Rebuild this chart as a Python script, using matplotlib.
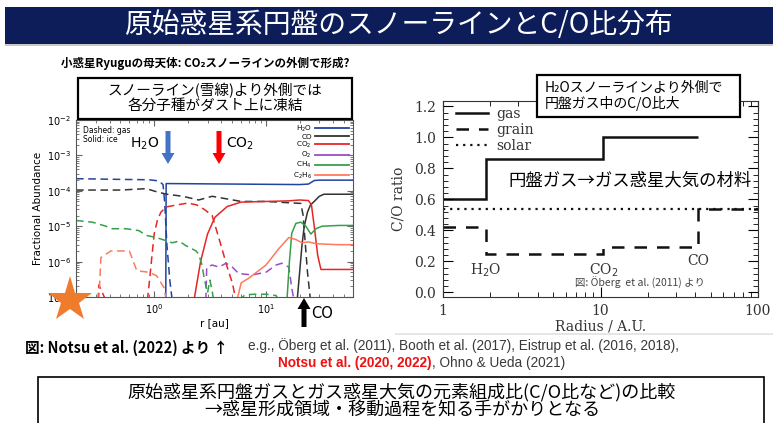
import numpy as np
import matplotlib
matplotlib.use('Agg')
import matplotlib.pyplot as plt
from matplotlib.patches import Rectangle, FancyArrow
from matplotlib.lines import Line2D
from matplotlib.transforms import Affine2D
from matplotlib.ticker import LogLocator, NullFormatter, MultipleLocator, FixedLocator, FixedFormatter

plt.rcParams['font.family'] = ['Noto Sans CJK JP', 'DejaVu Sans']

W, H = 773, 423

# ---- left panel data (Notsu et al. 2022), r [au] vs fractional abundance ----
h2o_gas_r = [0.2, 0.5, 0.9, 1.1, 1.2, 1.24, 1.3, 1.38, 1.45]
h2o_gas_y = [2.2e-4, 2.1e-4, 2.05e-4, 1.9e-4, 1.5e-4, 5e-5, 3e-6, 3e-7, 8e-8]
h2o_ice_r = [1.27, 1.28, 1.35, 5, 20, 24, 27, 30, 60]
h2o_ice_y = [8e-8, 1.6e-4, 1.6e-4, 1.55e-4, 1.5e-4, 1.55e-4, 1.95e-4, 2e-4, 2e-4]

co_gas_r = [0.2, 0.5, 0.85, 1.1, 1.3, 1.8, 2.5, 3.3, 6, 10, 20.5, 21.5, 22.5, 23.5, 25]
co_gas_y = [1.05e-4, 1.05e-4, 1.15e-4, 9e-5, 8e-5, 7e-5, 5.5e-5, 7e-5, 5e-5, 5e-5, 4.4e-5, 2e-5, 3e-6, 5e-7, 8e-8]
co_ice_r = [19, 20, 21, 22, 23.5, 25, 27, 30, 33, 60]
co_ice_y = [8e-8, 5e-7, 3e-6, 1e-5, 2.5e-5, 4e-5, 5e-5, 7e-5, 8e-5, 8e-5]

co2_gas_r = [0.315, 0.32, 0.37, np.nan, 0.87, 0.91, 0.95, 1.0, 1.07, 1.15, 1.28, 1.6, 2.0, 2.4, 2.8,
             3.3, 3.9, 4.5, 5.0, 5.4]
co2_gas_y = [8e-8, 2.2e-7, 8e-8, np.nan, 8e-8, 3e-7, 1.2e-6, 6e-6, 1.5e-5, 2.5e-5, 3.5e-5, 4e-5, 4.5e-5,
             4e-5, 3e-5, 2e-5, 3.4e-6, 7e-7, 2.5e-7, 8e-8]
co2_ice_r = [2.27, 2.6, 3.0, 3.5, 4.5, 6, 10, 16, 20, 24, 25.5, 27, 29, 31, 60]
co2_ice_y = [8e-8, 1e-6, 6e-6, 1.8e-5, 3.6e-5, 4.8e-5, 5e-5, 5.2e-5, 5.5e-5, 5.3e-5, 4e-5, 1e-5, 1.5e-6,
             6e-7, 6e-7]

o2_gas_r = [2.9, 2.95, 3.3, 3.8, 4.4, 5.0, 5.7, 7.5, 10, 12.3, 13.9, 16, 17, 17.8]
o2_gas_y = [8e-8, 6.8e-7, 8e-7, 7e-7, 9e-7, 7e-7, 4.6e-7, 4.2e-7, 5e-7, 8e-7, 9e-7, 7e-7, 1.8e-7, 8e-8]

ch4_gas_r = [0.2, 0.28, 0.37, 0.42, 0.56, 0.73, 0.85, 1.04, 1.28, 1.45, 1.67, 1.93, 2.37, 2.5, 2.68,
             2.8, 3.0, 3.15, 3.3, 3.4, np.nan, 5.7, 6.5, 8, 10, 12.3, 13]
ch4_gas_y = [1.45e-5, 1.3e-5, 1e-5, 8.5e-6, 8.5e-6, 7.5e-6, 5.5e-6, 4.8e-6, 3.9e-6, 3.4e-6, 3.8e-6,
             2.8e-6, 2e-6, 1.6e-6, 8e-7, 3.4e-7, 1.3e-7, 3e-7, 1.5e-7, 8e-8, np.nan,
             8e-8, 1.15e-7, 1.2e-7, 1.2e-7, 1.1e-7, 8e-8]
ch4_ice_r = [15.4, 16.2, 17, 18.5, 20.5, 22.7, 25.2, 28, 31.7, 45, 60]
ch4_ice_y = [8e-8, 1e-6, 6.3e-6, 1.2e-5, 1.3e-5, 1e-5, 6e-6, 8.5e-6, 1e-5, 1.05e-5, 1.05e-5]

c2h6_gas_r = [0.32, 0.334, 0.41, 0.6, 0.70, 0.9, 1.05, 1.23, 1.28]
c2h6_gas_y = [8e-8, 1.3e-6, 2e-6, 2e-6, 5.5e-7, 5e-7, 4e-7, 1.8e-7, 8e-8]
c2h6_ice_r = [5.5, 6, 7.1, 10, 13, 16, 18.5, 21, 24, 28, 45, 60]
c2h6_ice_y = [8e-8, 2.5e-7, 3.5e-7, 8e-7, 2.3e-6, 4.8e-6, 4.2e-6, 3.4e-6, 3.6e-6, 3.2e-6, 3e-6, 3e-6]

species = ['H$_2$O', 'CO', 'CO$_2$', 'O$_2$', 'CH$_4$', 'C$_2$H$_6$']
colors = ['#2244a0', '#333333', '#e82525', '#9a4cc8', '#35a048', '#ff7a5c']
gas = [(h2o_gas_r, h2o_gas_y), (co_gas_r, co_gas_y), (co2_gas_r, co2_gas_y),
       (o2_gas_r, o2_gas_y), (ch4_gas_r, ch4_gas_y), (c2h6_gas_r, c2h6_gas_y)]
ice = [(h2o_ice_r, h2o_ice_y), (co_ice_r, co_ice_y), (co2_ice_r, co2_ice_y),
       None, (ch4_ice_r, ch4_ice_y), (c2h6_ice_r, c2h6_ice_y)]

# ---- right panel data (Oberg et al. 2011) ----
snow_edges = [1, 1.87, 10.4, 41.5]
gas_co = [0.6, 0.86, 1.0]
grain_edges = [1, 1.87, 10.4, 41.5, 100]
grain_co = [0.423, 0.245, 0.295, 0.54]
solar_co = 0.537

fig = plt.figure(figsize=(W / 100, H / 100), dpi=100)
PX = Affine2D().scale(0.01, -0.01).translate(0, H / 100) + fig.dpi_scale_trans


def fx(x):
    return x / W


def fy(y):
    return 1 - y / H


def box(x0, y0, x1, y1, lw=1.5, fc='white', ec='black', z=1):
    fig.patches.append(Rectangle((fx(x0), fy(y1)), fx(x1 - x0), (y1 - y0) / H, transform=fig.transFigure,
                                 fc=fc, ec=ec, lw=lw, zorder=z))


# title bar
box(5, 7, W, 44, lw=0, fc='#0c1d5a', ec='none')
box(5, 44, W, 46, lw=0, fc='#c8c8c8', ec='none')
fig.text(fx(398), fy(25), '原始惑星系円盤のスノーラインとC/O比分布', color='white', fontsize=20,
         ha='center', va='center')

# ---- left panel ----
axL = fig.add_axes([fx(76), fy(297), fx(353 - 76), (297 - 120) / H])
for c, g, i, lab in zip(colors, gas, ice, species):
    axL.plot(g[0], g[1], color=c, lw=1.1, dashes=(5, 3))
    if i is not None:
        axL.plot(i[0], i[1], color=c, lw=1.1)
axL.set_xscale('log')
axL.set_yscale('log')
axL.set_xlim(0.2, 60)
axL.set_ylim(1e-7, 1e-2)
axL.xaxis.set_major_locator(FixedLocator([1, 10]))
axL.xaxis.set_major_formatter(FixedFormatter(['10$^0$', '10$^1$']))
axL.xaxis.set_minor_locator(LogLocator(subs=np.arange(2, 10)))
axL.xaxis.set_minor_formatter(NullFormatter())
axL.yaxis.set_minor_locator(LogLocator(subs=np.arange(2, 10), numticks=20))
axL.yaxis.set_minor_formatter(NullFormatter())
axL.tick_params(which='both', direction='in', top=True, right=True, labelsize=7, color='#666666',
                labelfontfamily='DejaVu Sans')
axL.tick_params(which='major', length=4)
axL.tick_params(which='minor', length=2)
for s in axL.spines.values():
    s.set_color('#555555')
    s.set_linewidth(0.8)
axL.set_xlabel('r [au]', fontsize=7.5, family='DejaVu Sans', labelpad=2)
axL.set_ylabel('Fractional Abundance', fontsize=7.5, family='DejaVu Sans', labelpad=3)
leg_handles = [Line2D([], [], color=c, lw=1.3) for c in colors]
axL.legend(leg_handles, species, loc='upper right', markerfirst=False, frameon=False,
           labelspacing=0.0, handlelength=4.8, handletextpad=0.4, borderaxespad=0.1,
           prop={'family': 'DejaVu Sans', 'size': 5.2})
axL.text(0.025, 0.965, 'Dashed: gas\nSolid: ice', transform=axL.transAxes, fontsize=5.5, va='top',
         family='DejaVu Sans', linespacing=0.95)

# arrows and labels around the left panel
fig.patches.append(FancyArrow(168, 131, 0, 33, width=5, head_width=13, head_length=11,
                              length_includes_head=True, color='#4472c4', transform=PX, lw=0))
fig.patches.append(FancyArrow(219, 131, 0, 33, width=5, head_width=13, head_length=11,
                              length_includes_head=True, color='#ff0000', transform=PX, lw=0))
fig.patches.append(FancyArrow(304, 327, 0, -29, width=5, head_width=13, head_length=11,
                              length_includes_head=True, color='black', transform=PX, lw=0))
fig.text(fx(159), fy(144), 'H$_2$O', fontsize=10, ha='right', va='center', family='DejaVu Sans')
fig.text(fx(226), fy(144), 'CO$_2$', fontsize=10, ha='left', va='center', family='DejaVu Sans')
fig.text(fx(311), fy(313), 'CO', fontsize=10.5, ha='left', va='center', family='DejaVu Sans')
fig.add_artist(Line2D([fx(70)], [fy(300)], marker='*', markersize=34, color='#ef7c2d',
                      transform=fig.transFigure, markeredgewidth=0))

fig.text(fx(205), fy(63), '小惑星Ryuguの母天体: CO₂スノーラインの外側で形成?', fontsize=8.3,
         weight='bold', ha='center', va='center')
box(78, 78, 352, 119, lw=1.6, z=3)
fig.text(fx(215), fy(98.5), 'スノーライン(雪線)より外側では\n各分子種がダスト上に凍結', fontsize=10.5,
         ha='center', va='center', linespacing=1.15, zorder=4)

# ---- right panel ----
serif = 'DejaVu Serif'
axR = fig.add_axes([fx(443), fy(297), fx(758 - 443), (297 - 101) / H])
axR.stairs(gas_co, snow_edges, baseline=None, color='#111111', lw=1.8)
axR.stairs(grain_co, grain_edges, baseline=None, color='#111111', lw=1.8, linestyle=(0, (5, 4)))
axR.axhline(solar_co, color='#111111', lw=1.6, linestyle=(0, (1, 2.2)))
axR.set_xscale('log')
axR.set_xlim(1, 100)
axR.set_ylim(-0.03, 1.235)
axR.xaxis.set_major_locator(FixedLocator([1, 10, 100]))
axR.xaxis.set_major_formatter(FixedFormatter(['1', '10', '100']))
axR.xaxis.set_minor_locator(LogLocator(subs=np.arange(2, 10)))
axR.xaxis.set_minor_formatter(NullFormatter())
axR.yaxis.set_major_locator(MultipleLocator(0.2))
axR.yaxis.set_minor_locator(MultipleLocator(0.04))
axR.yaxis.set_major_formatter(plt.FormatStrFormatter('%.1f'))
axR.tick_params(which='both', direction='in', top=True, right=True, labelsize=10, labelcolor='#333333',
                labelfontfamily=serif, pad=5)
axR.tick_params(which='major', length=7)
axR.tick_params(which='minor', length=3.5)
for s in axR.spines.values():
    s.set_color('#333333')
axR.set_xlabel('Radius / A.U.', fontsize=10, family=serif, color='#333333', labelpad=1)
axR.set_ylabel('C/O ratio', fontsize=10, family=serif, color='#333333', labelpad=6)
legR = [Line2D([], [], color='#111111', lw=1.8),
        Line2D([], [], color='#111111', lw=1.8, linestyle=(0, (5, 4))),
        Line2D([], [], color='#111111', lw=1.6, linestyle=(0, (1, 2.2)))]
axR.legend(legR, ['gas', 'grain', 'solar'], loc='upper left', frameon=False, handlelength=2.3,
           handletextpad=0.6, labelspacing=0.15, prop={'family': serif, 'size': 10},
           labelcolor='#333333', borderaxespad=0.0, bbox_to_anchor=(0.025, 1.0))
axR.text(snow_edges[1], 0.145, 'H$_2$O', ha='center', va='center', fontsize=10, family=serif,
         color='#333333')
axR.text(snow_edges[2], 0.145, 'CO$_2$', ha='center', va='center', fontsize=10, family=serif,
         color='#333333')
axR.text(snow_edges[3], 0.2, 'CO', ha='center', va='center', fontsize=10, family=serif, color='#333333')
axR.text(6.9, 0.06, '図: Öberg  et al. (2011) より', fontsize=7.5, va='center', color='#444444',
         family=['Noto Sans CJK JP', 'DejaVu Sans'])
axR.text(2.6, 0.725, '円盤ガス→ガス惑星大気の材料', fontsize=12.5, va='center')

box(537, 75, 740, 117, lw=1.6, z=3)
fig.text(fx(545), fy(96), 'H₂Oスノーラインより外側で\n円盤ガス中のC/O比大', fontsize=10,
         ha='left', va='center', linespacing=1.15, zorder=4)
box(395, 333, W, 335, lw=0, fc='#e6e6e6', ec='none')

# ---- bottom texts ----
fig.text(fx(25), fy(348), '図: Notsu et al. (2022) より ↑', fontsize=10.5, weight='bold', va='center',
         family=['Liberation Sans Narrow', 'Noto Sans CJK JP', 'DejaVu Sans'])
cite = ['Liberation Sans Narrow', 'Liberation Sans', 'DejaVu Sans']
fig.text(fx(248), fy(346), 'e.g., Öberg et al. (2011), Booth et al. (2017), Eistrup et al. (2016, 2018),',
         fontsize=9.8, va='center', color='#3a3a3a', family=cite)
t1 = fig.text(fx(278), fy(363), 'Notsu et al. (2020, 2022)', fontsize=9.8, va='center', color='#ee1111',
              weight='bold', family=cite)
fig.canvas.draw()
bb = t1.get_window_extent()
fig.text(bb.x1 / fig.dpi / (W / 100), fy(363), ', Ohno & Ueda (2021)', fontsize=9.8, va='center',
         color='#3a3a3a', family=cite)

box(38, 377, 764, 440, lw=1.2)
fig.text(fx(402), fy(392), '原始惑星系円盤ガスとガス惑星大気の元素組成比(C/O比など)の比較', fontsize=13,
         ha='center', va='center')
fig.text(fx(402), fy(411), '→惑星形成領域・移動過程を知る手がかりとなる', fontsize=13,
         ha='center', va='center')

fig.savefig('out.png', dpi=100)
